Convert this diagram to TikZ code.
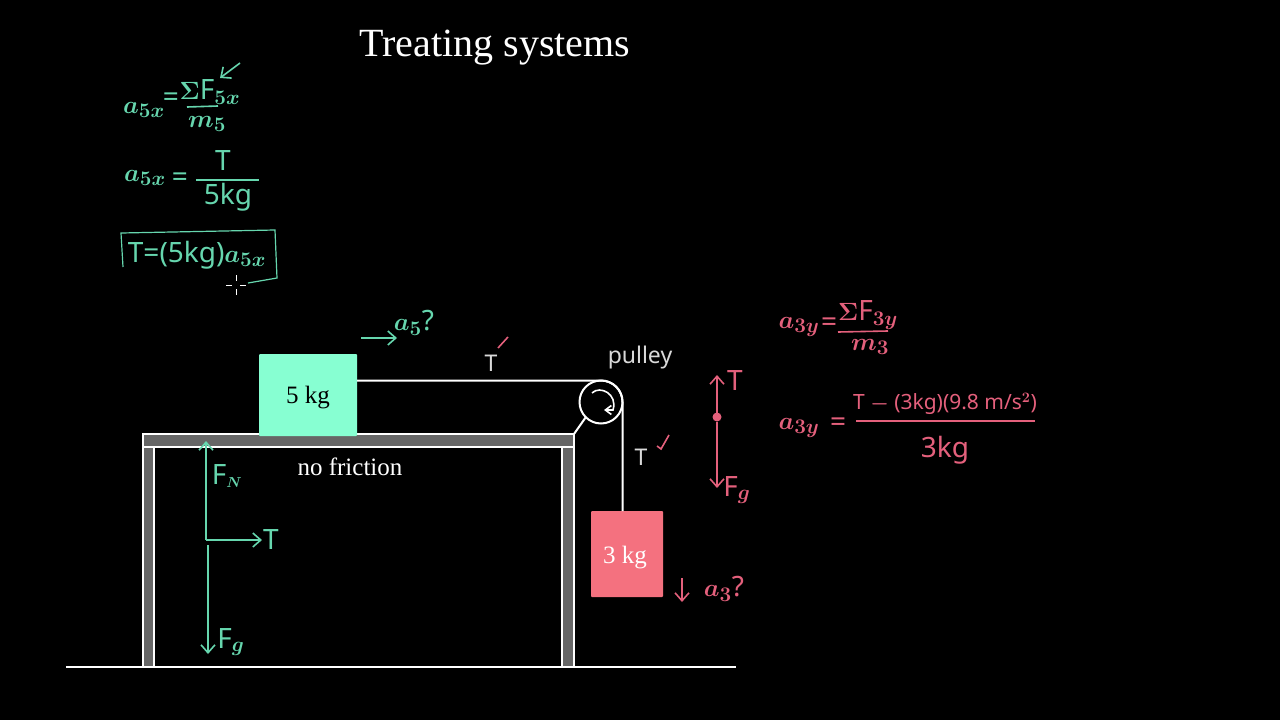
\documentclass[tikz,border=0pt]{standalone}
\usepackage{amsmath}
\usepackage{fontspec}
\setmainfont{Liberation Serif}
\newfontfamily\handfont{Noto Sans}[Scale=1.0]
\usetikzlibrary{arrows.meta}
\definecolor{handgreen}{HTML}{66D6AE}
\definecolor{handpink}{HTML}{E4607C}
\definecolor{blockgreen}{HTML}{87FFD2}
\definecolor{blockpink}{HTML}{F4717F}
\definecolor{tablegray}{HTML}{666666}
\tikzset{
>={Straight Barb[length=8pt,width=14pt]}, % open hand-drawn arrow heads
x=1pt, y=-1pt, % picture is laid out in reference pixels
every node/.style={inner sep=0pt, outer sep=0pt},
label/.style={text=white, font=\fontsize{25}{25}\selectfont}, % printed labels
block/.style={rounded corners=1pt, font=\fontsize{25}{25}\selectfont},
wire/.style={draw=white, line width=2pt},
tablepart/.style={draw=white, line width=2pt, fill=tablegray},
greenline/.style={draw=handgreen, line width=1.6pt},
pinkline/.style={draw=handpink, line width=1.6pt},
greenhand/.style={text=handgreen, font=\handfont\boldmath\fontsize{28}{28}\selectfont},
pinkhand/.style={text=handpink, font=\handfont\boldmath\fontsize{28}{28}\selectfont},
whitehand/.style={text=white!85!black, font=\handfont\fontsize{23}{23}\selectfont},
}

\begin{document}
\begin{tikzpicture}
		\useasboundingbox (0,0) rectangle (1280,720);
		\fill[black] (0,0) rectangle (1280,720);
		\node[text=white, font=\fontsize{40}{40}\selectfont] (title) at (495,48) {Treating systems};
		% table and ground
		\fill[tablegray] (143,440) rectangle (154,667);
		\draw[wire] (143,667) -- (143,440) (154,667) -- (154,440);
		\fill[tablegray] (562,440) rectangle (574,667);
		\draw[wire] (562,667) -- (562,440) (574,667) -- (574,440);
		\draw[tablepart] (143,434) rectangle (574,447);
		\draw[wire] (66,667) -- (736,667);
		% blocks and pulley
		\node[block, fill=blockgreen, text=black, minimum width=98pt, minimum height=82pt] (block5) at (308,395) {};
		\node[block, text=black] (mass5) at (308,398) {5 kg};
		\node[block, fill=blockpink, text=white, minimum width=72pt, minimum height=86pt] (block3) at (627,554) {};
		\node[block, text=white] (mass3) at (625,558) {3 kg};
		\node[circle, draw=white, line width=2pt, minimum size=43pt] (pulley) at (601,402) {};
		\coordinate (corner) at (574,434);
		\coordinate (spinstart) at (592,393);
		\coordinate (spinend) at (604,410);
		\draw[wire] (corner) -- (pulley.225);
		\draw[wire] (block5.east |- pulley.north) -- (pulley.north) arc[start angle=90, end angle=0, radius=21.5pt] -- (pulley.east |- block3.north);
		\draw[wire, line width=1.6pt, -{Straight Barb[length=6pt,width=9pt]}] (spinstart) .. controls (600,385) and (618,394) .. (613,410) -- (spinend);
		\node[label] (friction) at (350,467) {no friction};
		\node[whitehand] (tension5) at (491,363) {T};
		\node[whitehand] (tension3) at (641,457) {T};
		\node[whitehand] (pulleyname) at (640,358) {pulley};
		% checks on the tensions
		\coordinate (checka) at (498,348);
		\coordinate (checkb) at (508,337);
		\coordinate (checkc) at (657,446);
		\coordinate (checkd) at (661,449);
		\coordinate (checke) at (669,435);
		\draw[pinkline] (checka) -- (checkb);
		\draw[pinkline] (checkc) -- (checkd) -- (checke);
		% forces on the 5 kg block
		\coordinate (center5) at (206,540);
		\coordinate (normal5) at (206,441);
		\coordinate (pull5) at (262,540);
		\coordinate (weightstart5) at (208,545);
		\coordinate (weight5) at (208,654);
		\draw[greenline, ->] (center5) -- (normal5);
		\draw[greenline, ->] (center5) -- (pull5);
		\draw[greenline, ->] (weightstart5) -- (weight5);
		\node[greenhand] (fn5) at (227,476) {F$_{\scriptscriptstyle N}$};
		\node[greenhand] (t5) at (271,539) {T};
		\node[greenhand] (fg5) at (231,642) {F$_{g}$};
		\coordinate (accstart5) at (361,338);
		\coordinate (accend5) at (397,338);
		\draw[greenline, ->] (accstart5) -- (accend5);
		\node[greenhand] (acc5) at (414,323) {$a_{5}$?};
		% equations for the 5 kg block
		\node[greenhand] (lhsa) at (144,110) {$a_{5x}$};
		\node[greenhand] (eqa) at (171,100) {=};
		\node[greenhand] (numa) at (210,92) {$\Sigma$F$_{5x}$};
		\node[greenhand] (dena) at (207,124) {$m_{5}$};
		\coordinate (barastart) at (187,107);
		\coordinate (baraend) at (218,106);
		\draw[greenline] (barastart) -- (baraend);
		\coordinate (notestart) at (240,63);
		\coordinate (noteend) at (220,78);
		\draw[greenline, ->] (notestart) -- (noteend);
		\node[greenhand] (lhsb) at (145,178) {$a_{5x}$};
		\node[greenhand] (eqb) at (180,180) {=};
		\node[greenhand] (numb) at (223,161) {T};
		\node[greenhand] (denb) at (228,197) {5kg};
		\coordinate (barbstart) at (196,180);
		\coordinate (barbend) at (259,180);
		\draw[greenline] (barbstart) -- (barbend);
		\node[greenhand] (result) at (197,255) {T=(5kg)$a_{5x}$};
		\coordinate (boxa) at (123,267);
		\coordinate (boxb) at (121,233);
		\coordinate (boxc) at (275,230);
		\coordinate (boxd) at (277,278);
		\coordinate (boxe) at (248,283);
		\draw[greenline, line width=1.2pt] (boxa) -- (boxb) -- (boxc) -- (boxd) -- (boxe);
		% pointer
		\draw[white, line width=0.8pt] (226,285) -- (232,285) (240,285) -- (246,285) (236,275) -- (236,281) (236,289) -- (236,295);
		% forces on the 3 kg block
		\node[circle, fill=handpink, minimum size=9pt] (center3) at (717,417) {};
		\coordinate (pull3) at (717,375);
		\coordinate (weight3) at (717,488);
		\draw[pinkline, ->] (center3) -- (pull3);
		\draw[pinkline, ->] (center3) -- (weight3);
		\node[pinkhand] (t3) at (735,380) {T};
		\node[pinkhand] (fg3) at (737,490) {F$_{g}$};
		\coordinate (accstart3) at (682,578);
		\coordinate (accend3) at (682,602);
		\draw[pinkline, ->] (accstart3) -- (accend3);
		\node[pinkhand] (acc3) at (724,589) {$a_{3}$?};
		% equations for the 3 kg block
		\node[pinkhand] (lhsc) at (799,327) {$a_{3y}$};
		\node[pinkhand] (eqc) at (829,325) {=};
		\node[pinkhand] (numc) at (868,315) {$\Sigma$F$_{3y}$};
		\node[pinkhand] (denc) at (870,347) {$m_{3}$};
		\coordinate (barcstart) at (838,332);
		\coordinate (barcend) at (888,331);
		\draw[pinkline] (barcstart) -- (barcend);
		\node[pinkhand] (lhsd) at (799,428) {$a_{3y}$};
		\node[pinkhand] (eqd) at (838,425) {=};
		\node[pinkhand, font=\handfont\boldmath\fontsize{21}{21}\selectfont] (numd) at (945,404) {T $-$ (3kg)(9.8 m/s$^{2}$)};
		\node[pinkhand] (dend) at (945,450) {3kg};
		\coordinate (bardstart) at (856,421);
		\coordinate (bardend) at (1035,421);
		\draw[pinkline] (bardstart) -- (bardend);
	\end{tikzpicture}
\end{document}
